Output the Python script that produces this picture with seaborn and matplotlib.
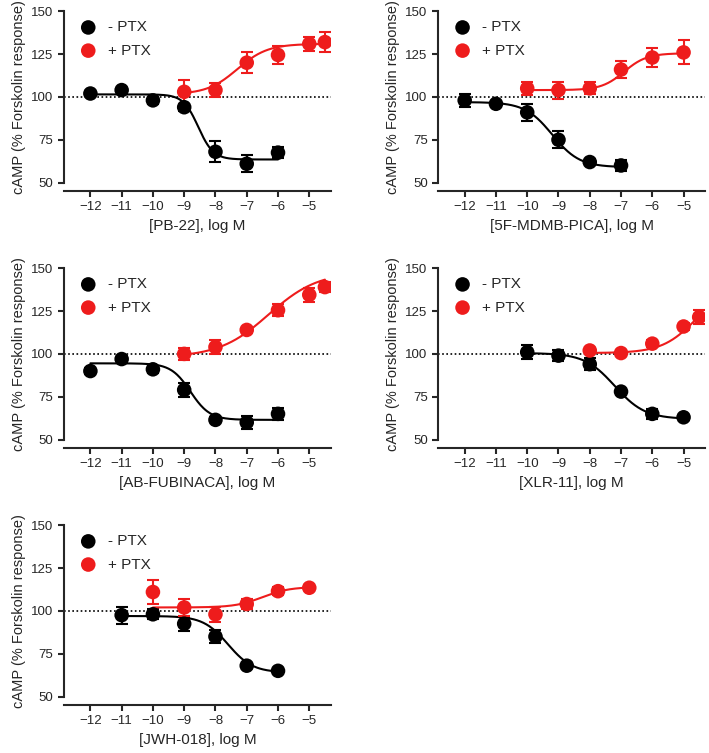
import numpy as np
import pandas as pd
import matplotlib
matplotlib.use("Agg")
import matplotlib.pyplot as plt
import seaborn as sns

sns.set_style("ticks")
plt.rcParams['font.family'] = ['Liberation Sans', 'DejaVu Sans']

drugs = ["PB-22", "5F-MDMB-PICA", "AB-FUBINACA", "XLR-11", "JWH-018"]
# -PTX data
nx = [[-12, -11, -10, -9, -8, -7, -6],
      [-12, -11, -10, -9, -8, -7],
      [-12, -11, -10, -9, -8, -7, -6],
      [-10, -9, -8, -7, -6, -5],
      [-11, -10, -9, -8, -7, -6]]
ny = [[102, 104, 98, 94, 68, 61, 67.5],
      [98, 96, 91, 75, 62, 60],
      [90, 97, 91, 79, 61.5, 60, 65],
      [101, 99, 94, 78, 65, 63],
      [97.5, 98, 92.5, 85, 68, 65]]
ne = [[1.5, 1.5, 2, 2, 6, 5, 3],
      [4, 1.5, 5, 5, 1.5, 3],
      [1.5, 1.5, 2, 4, 1.5, 4, 3.5],
      [4, 3, 3.5, 1.5, 3, 1.5],
      [5, 3, 4, 4, 1.5, 1.5]]
# +PTX data
px = [[-9, -8, -7, -6, -5, -4.5],
      [-10, -9, -8, -7, -6, -5],
      [-9, -8, -7, -6, -5, -4.5],
      [-8, -7, -6, -5, -4.5],
      [-10, -9, -8, -7, -6, -5]]
py = [[103, 104, 120, 124.5, 131, 132],
      [105, 104, 105, 116, 123, 126],
      [100, 104, 114, 125.5, 134.5, 139],
      [102, 100.5, 106, 116, 121.5],
      [111, 102, 98, 104, 111.5, 113.5]]
pe = [[7, 4, 6, 5, 4, 6],
      [4, 5, 3.5, 5, 5.5, 7],
      [3.5, 4, 2, 3.5, 4, 3],
      [1.5, 1.5, 2, 2, 4],
      [7, 5, 4.5, 3, 2.5, 1.5]]
# fitted curve parameters: value at low conc, value at high conc, logEC50, hill
nfit = [(101.5, 63.5, -8.55, 1.8), (97, 59, -9.2, 1.0), (94.5, 61.5, -8.8, 1.4),
        (100.5, 62, -7.2, 0.9), (97, 64, -7.6, 1.1)]
pfit = [(101.5, 131, -7.3, 0.9), (104, 125.5, -6.9, 1.2), (98, 148, -6.3, 0.55),
        (100.5, 140, -4.6, 0.8), (102, 114, -6.5, 1.0)]
xend_n = [-6, -7, -6, -5, -6]
xend_p = [-4.5, -5, -4.5, -4.5, -5]
red = "#ee1c1c"

fig, axes = plt.subplots(3, 2, figsize=(7.09, 7.53), dpi=100)
axes = axes.ravel()
axes[5].axis("off")

def curve(x, lo, hi, ec, h):
    return lo + (hi - lo) / (1 + 10 ** ((ec - x) * h))

for i, ax in enumerate(axes[:5]):
    for xs, ys, es, fit, x1, col, lab in [
        (nx[i], ny[i], ne[i], nfit[i], xend_n[i], "black", "- PTX"),
        (px[i], py[i], pe[i], pfit[i], xend_p[i], red, "+ PTX")]:
        cx = np.linspace(xs[0], x1, 200)
        cy = curve(cx, *fit)
        sns.lineplot(x=cx, y=cy, ax=ax, color=col, lw=1.5)
        ax.errorbar(xs, ys, yerr=es, fmt="none", ecolor=col, elinewidth=1.5, capsize=4, capthick=1.5)
        df = pd.DataFrame({"x": xs, "y": ys})
        sns.scatterplot(data=df, x="x", y="y", ax=ax, color=col, s=110, edgecolor="none",
                        label=lab, zorder=5)
    ax.axhline(100, color="black", ls=(0, (1, 1.5)), lw=1.2, zorder=0)
    ax.set_xlim(-12.85, -4.3)
    ax.set_ylim(50, 150)
    ax.set_xticks(range(-12, -4))
    ax.set_xticklabels([f"\u2212{abs(v)}" for v in range(-12, -4)])
    ax.set_yticks([50, 75, 100, 125, 150])
    ax.set_xlabel(f"[{drugs[i]}], log M", fontsize=11)
    ax.set_ylabel("cAMP (% Forskolin response)", fontsize=10.5)
    ax.tick_params(labelsize=9.5, width=1.5, length=4)
    for s in ["left", "bottom"]:
        ax.spines[s].set_linewidth(1.5)
    ax.spines["bottom"].set_position(("outward", 6))
    ax.spines["bottom"].set_bounds(-12.85, -4.3)
    sns.despine(ax=ax)
    ax.legend(loc="upper left", frameon=False, fontsize=11, handletextpad=0.3,
              borderaxespad=0.2, labelspacing=0.6, markerscale=1.0)

plt.subplots_adjust(left=0.09, right=0.995, top=0.985, bottom=0.075, wspace=0.4, hspace=0.5)
fig.savefig("out.png", dpi=100)
